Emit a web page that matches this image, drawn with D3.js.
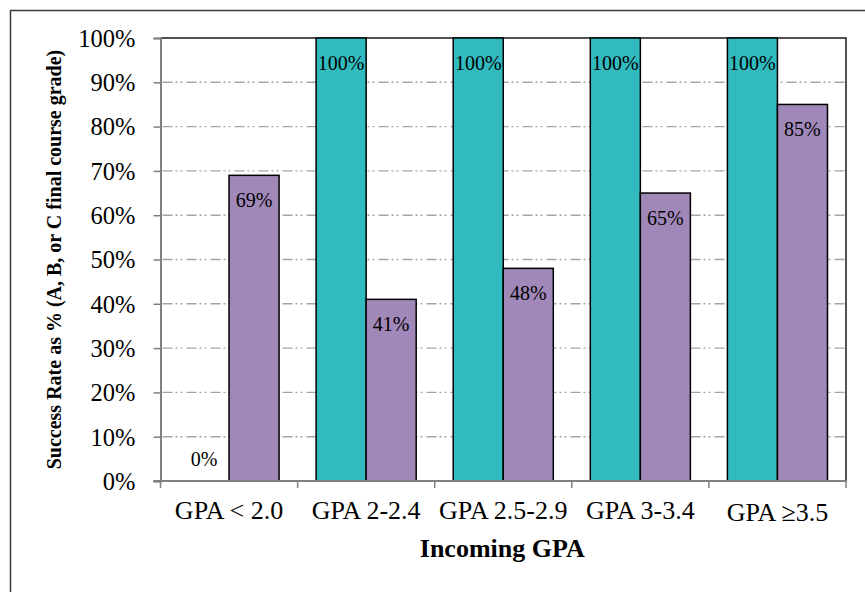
<!DOCTYPE html>
<html>
<head>
<meta charset="utf-8">
<script src="https://cdn.jsdelivr.net/npm/d3@7"></script>
<style>
  html, body { margin: 0; padding: 0; background: #fff; }
  svg { display: block; }
  text { font-family: "Liberation Serif", "Times New Roman", serif; fill: #000; }
</style>
</head>
<body>
<svg id="chart" width="865" height="592"></svg>
<script>
// GPA bands and success rates (%) for the two cohorts
const categories = ["GPA < 2.0", "GPA 2-2.4", "GPA 2.5-2.9", "GPA 3-3.4", "GPA \u22653.5"];
const seriesKeys = ["teal", "purple"];
const tealValues = [0, 100, 100, 100, 100];
const purpleValues = [69, 41, 48, 65, 85];
const yTickValues = [0, 10, 20, 30, 40, 50, 60, 70, 80, 90, 100];
const xTitle = "Incoming GPA";
const yTitle = "Success Rate as % (A, B, or C final course grade)";

const colors = { teal: "#31BBBF", purple: "#A088B8" };

const svg = d3.select("#chart");
const plot = { left: 160.5, right: 846, top: 38, bottom: 481 };

// Outer chart frame
svg.append("rect")
  .attr("x", 10.5).attr("y", 10.5)
  .attr("width", 900).attr("height", 700)
  .attr("fill", "none").attr("stroke", "#3a3a3a").attr("stroke-width", 1.5);

const x = d3.scaleBand().domain(categories).range([plot.left, plot.right]).padding(0);
const xs = d3.scaleBand().domain(seriesKeys).range([0, x.bandwidth()])
  .paddingInner(0).paddingOuter(0.37);
const y = d3.scaleLinear().domain([0, 100]).range([plot.bottom, plot.top]);

// Dash-dot-dot gridlines
svg.append("g").selectAll("line")
  .data(yTickValues.filter(v => v > 0 && v < 100))
  .join("line")
  .attr("x1", plot.left + 2).attr("x2", plot.right)
  .attr("y1", d => y(d)).attr("y2", d => y(d))
  .attr("stroke", "#a6a6a6").attr("stroke-width", 1.4)
  .attr("stroke-dasharray", "10,3,2,3,2,4");

// Plot area border (top and right)
svg.append("path")
  .attr("d", `M${plot.left},${plot.top}H${plot.right}V${plot.bottom}`)
  .attr("fill", "none").attr("stroke", "#1a1a1a").attr("stroke-width", 1.5);

// Bars
const rows = categories.map((c, i) => ({ cat: c, teal: tealValues[i], purple: purpleValues[i] }));
const groups = svg.append("g").selectAll("g")
  .data(rows).join("g")
  .attr("transform", d => `translate(${x(d.cat)},0)`);

groups.selectAll("rect")
  .data(d => seriesKeys.map(k => ({ key: k, value: d[k] })).filter(e => e.value > 0))
  .join("rect")
  .attr("x", d => xs(d.key))
  .attr("width", xs.bandwidth())
  .attr("y", d => y(d.value))
  .attr("height", d => y(0) - y(d.value))
  .attr("fill", d => colors[d.key])
  .attr("stroke", "#000").attr("stroke-width", 1.5);

// Value labels placed just inside the bar end
groups.selectAll("text")
  .data(d => seriesKeys.map(k => ({ key: k, value: d[k] })))
  .join("text")
  .attr("x", d => xs(d.key) + xs.bandwidth() / 2)
  .attr("y", d => d.value === 0 ? y(0) - 15 : y(d.value) + 32)
  .attr("text-anchor", "middle")
  .attr("font-size", 20)
  .text(d => d.value + "%");

// Y axis
const yAxis = svg.append("g")
  .attr("transform", `translate(${plot.left},0)`)
  .call(d3.axisLeft(y).tickValues(yTickValues).tickFormat(d => d + "%").tickSize(7).tickPadding(18));
yAxis.select(".domain").attr("stroke", "#808080").attr("stroke-width", 2);
yAxis.selectAll(".tick line").attr("stroke", "#808080").attr("stroke-width", 1.5);
yAxis.selectAll(".tick text")
  .attr("font-size", 24.5)
  .attr("font-family", "Liberation Serif, serif")
  .attr("fill", "#000")
  .attr("dy", "0.34em");

// X axis with ticks at category boundaries
const xAxisG = svg.append("g");
xAxisG.append("line")
  .attr("x1", plot.left - 7).attr("x2", plot.right)
  .attr("y1", plot.bottom).attr("y2", plot.bottom)
  .attr("stroke", "#808080").attr("stroke-width", 2);
const boundaries = categories.map(c => x(c)).concat([x(categories[categories.length - 1]) + x.bandwidth()]);
xAxisG.selectAll("line.tick")
  .data(boundaries).join("line")
  .attr("class", "tick")
  .attr("x1", d => d).attr("x2", d => d)
  .attr("y1", plot.bottom).attr("y2", plot.bottom + 7)
  .attr("stroke", "#808080").attr("stroke-width", 1.5);
xAxisG.selectAll("text")
  .data(categories).join("text")
  .attr("x", d => x(d) + x.bandwidth() / 2)
  .attr("y", (d, i) => i === categories.length - 1 ? 521 : 519)
  .attr("text-anchor", "middle")
  .attr("font-size", 26)
  .text(d => d);

// Axis titles
svg.append("text")
  .attr("x", (plot.left + plot.right) / 2 - 1)
  .attr("y", 557)
  .attr("text-anchor", "middle")
  .attr("font-size", 26).attr("font-weight", "bold")
  .text(xTitle);

svg.append("text")
  .attr("transform", `translate(61,${(plot.top + plot.bottom) / 2}) rotate(-90)`)
  .attr("text-anchor", "middle")
  .attr("font-size", 20).attr("font-weight", "bold")
  .text(yTitle);
</script>
</body>
</html>
